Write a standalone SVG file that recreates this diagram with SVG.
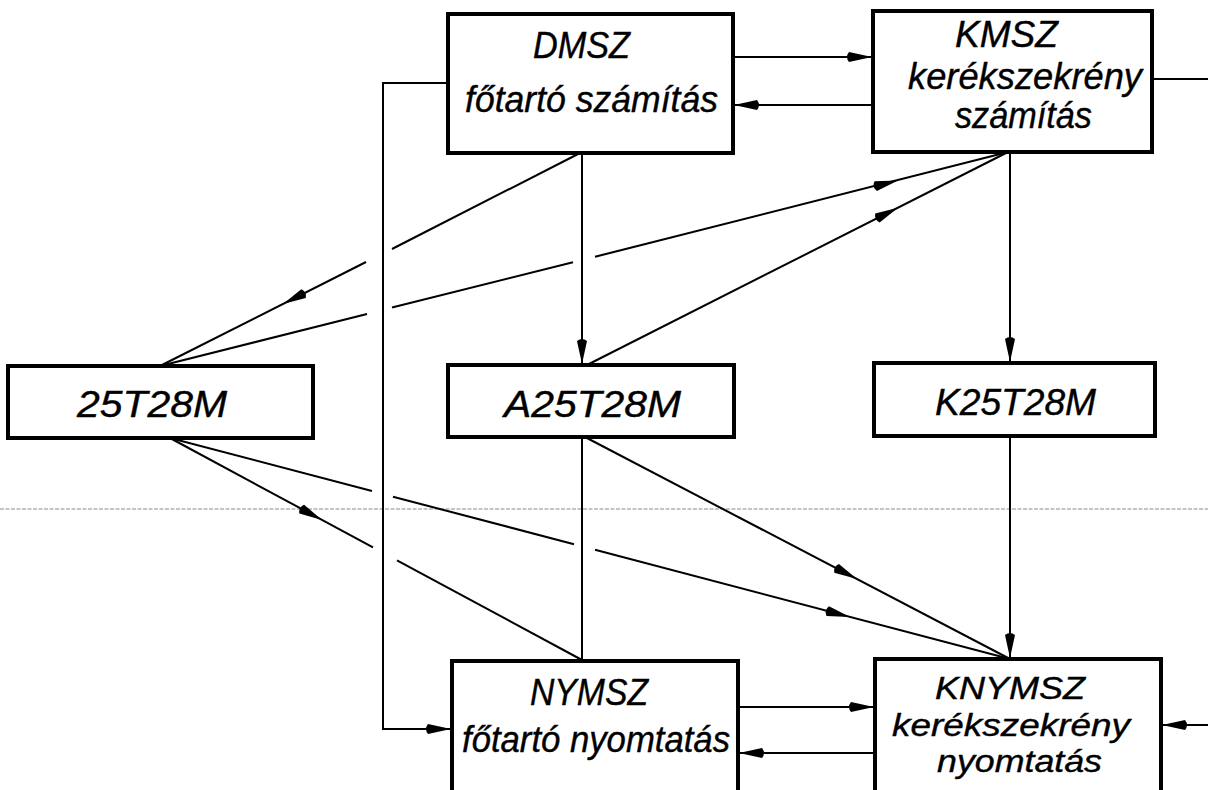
<svg xmlns="http://www.w3.org/2000/svg" xmlns:xlink="http://www.w3.org/1999/xlink" width="1208" height="790" viewBox="0 0 1208 790">
<defs>
<style>
.box{fill:#fff;stroke:#000;stroke-width:4}
.ln{fill:none;stroke:#000;stroke-width:2}
.t{font-family:"Liberation Sans",Arial,sans-serif;font-style:italic;font-size:37px;fill:#000;stroke:#000;stroke-width:0.4}
.s{font-size:31px}
.fold{stroke:#8a8a8a;stroke-width:1;stroke-dasharray:4 1.5}
</style>
<path id="ah" d="M0,0 L-23,-5 Q-27,0 -23,5 Z" fill="#000"/>
</defs>
<rect width="1208" height="790" fill="#fff"/>
<line class="fold" x1="0" y1="509" x2="1208" y2="509"/>
<g id="connectors">
<line class="ln" x1="733" y1="57" x2="873" y2="57"/>
<use xlink:href="#ah" transform="translate(872,57)"/>
<line class="ln" x1="873" y1="105" x2="733" y2="105"/>
<use xlink:href="#ah" transform="translate(734,105) rotate(180)"/>
<polyline class="ln" points="448,83 383,83 383,729 452,729"/>
<use xlink:href="#ah" transform="translate(451,729)"/>
<line class="ln" x1="582" y1="153" x2="582" y2="365"/>
<use xlink:href="#ah" transform="translate(582,364) rotate(90)"/>
<line class="ln" x1="580" y1="153" x2="392" y2="249"/>
<line class="ln" x1="366" y1="262" x2="160" y2="366"/>
<use xlink:href="#ah" transform="translate(283,304) rotate(153.2)"/>
<line class="ln" x1="160" y1="366" x2="367" y2="314"/>
<line class="ln" x1="392" y1="307.5" x2="573" y2="262.3"/>
<line class="ln" x1="595" y1="256.8" x2="1008" y2="152"/>
<use xlink:href="#ah" transform="translate(898,180.6) rotate(-14.1)"/>
<line class="ln" x1="587" y1="365" x2="1008" y2="152"/>
<use xlink:href="#ah" transform="translate(898,207.7) rotate(-26.8)"/>
<line class="ln" x1="1010" y1="152" x2="1010" y2="363"/>
<use xlink:href="#ah" transform="translate(1010,362) rotate(90)"/>
<line class="ln" x1="1152" y1="79" x2="1208" y2="79"/>
<line class="ln" x1="170" y1="438" x2="372" y2="491"/>
<line class="ln" x1="393" y1="496.7" x2="574" y2="544.2"/>
<line class="ln" x1="595" y1="549.8" x2="1010" y2="659"/>
<use xlink:href="#ah" transform="translate(850,617) rotate(14.7)"/>
<line class="ln" x1="170" y1="438" x2="373" y2="547.4"/>
<line class="ln" x1="397" y1="560.3" x2="582" y2="660"/>
<use xlink:href="#ah" transform="translate(322,520) rotate(28.3)"/>
<line class="ln" x1="582" y1="437" x2="582" y2="660"/>
<line class="ln" x1="585" y1="437" x2="1010" y2="659"/>
<use xlink:href="#ah" transform="translate(857,579) rotate(27.6)"/>
<line class="ln" x1="1010" y1="436" x2="1010" y2="659"/>
<use xlink:href="#ah" transform="translate(1010,658) rotate(90)"/>
<line class="ln" x1="738" y1="707" x2="875" y2="707"/>
<use xlink:href="#ah" transform="translate(874,707)"/>
<line class="ln" x1="875" y1="753" x2="738" y2="753"/>
<use xlink:href="#ah" transform="translate(739,753) rotate(180)"/>
<line class="ln" x1="1208" y1="725" x2="1161" y2="725"/>
<use xlink:href="#ah" transform="translate(1162,725) rotate(180)"/>
</g>
<g id="DMSZ">
<rect class="box" x="448" y="14" width="285" height="139"/>
<text class="t" x="533" y="58" textLength="97" lengthAdjust="spacingAndGlyphs">DMSZ</text>
<text class="t" x="465" y="112" textLength="253" lengthAdjust="spacingAndGlyphs">főtartó számítás</text>
</g>
<g id="KMSZ">
<rect class="box" x="873" y="11" width="279" height="141"/>
<text class="t" x="955" y="47" textLength="103" lengthAdjust="spacingAndGlyphs">KMSZ</text>
<text class="t" x="908" y="89" textLength="234" lengthAdjust="spacingAndGlyphs">kerékszekrény</text>
<text class="t" x="955" y="128" textLength="137" lengthAdjust="spacingAndGlyphs">számítás</text>
</g>
<g id="n25T28M">
<rect class="box" x="8" y="366" width="305" height="72"/>
<text class="t" x="77" y="417" textLength="150" lengthAdjust="spacingAndGlyphs">25T28M</text>
</g>
<g id="A25T28M">
<rect class="box" x="448" y="365" width="286" height="72"/>
<text class="t" x="504" y="417" textLength="177" lengthAdjust="spacingAndGlyphs">A25T28M</text>
</g>
<g id="K25T28M">
<rect class="box" x="874" y="363" width="281" height="73"/>
<text class="t" x="935" y="415" textLength="161" lengthAdjust="spacingAndGlyphs">K25T28M</text>
</g>
<g id="NYMSZ">
<rect class="box" x="452" y="661" width="286" height="150"/>
<text class="t" x="530" y="705" textLength="118" lengthAdjust="spacingAndGlyphs">NYMSZ</text>
<text class="t" x="462" y="752" textLength="268" lengthAdjust="spacingAndGlyphs">főtartó nyomtatás</text>
</g>
<g id="KNYMSZ">
<rect class="box" x="875" y="659" width="286" height="150"/>
<text class="t s" x="935" y="699" textLength="150" lengthAdjust="spacingAndGlyphs">KNYMSZ</text>
<text class="t s" x="892" y="736" textLength="238" lengthAdjust="spacingAndGlyphs">kerékszekrény</text>
<text class="t s" x="937" y="772" textLength="165" lengthAdjust="spacingAndGlyphs">nyomtatás</text>
</g>
</svg>
